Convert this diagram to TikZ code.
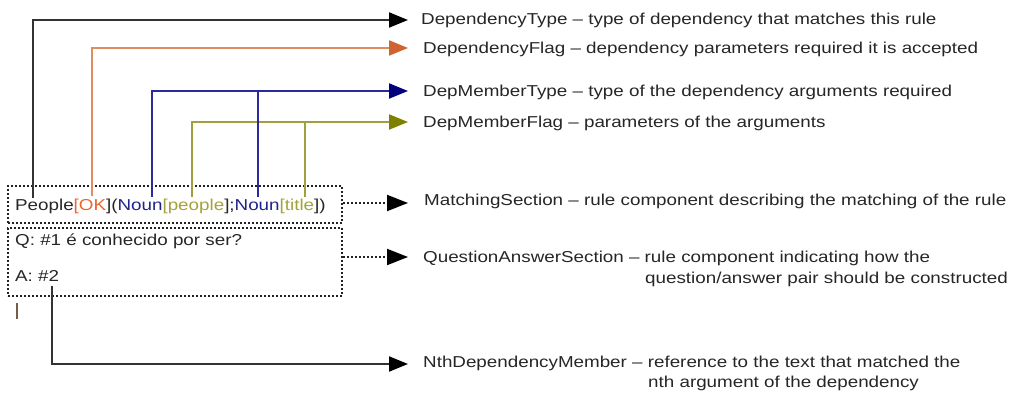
\documentclass[tikz,border=0pt]{standalone}
\usepackage{fontspec}
\setmainfont{Liberation Sans}[FakeStretch=1.19]
\usetikzlibrary{arrows.meta}

\definecolor{ink}{HTML}{262626}
\definecolor{lineK}{HTML}{333333}
\definecolor{dotK}{HTML}{222222}
\definecolor{lineO}{HTML}{E08B60}
\definecolor{headO}{HTML}{D0632F}
\definecolor{lineB}{HTML}{2A2A9C}
\definecolor{headB}{HTML}{00007F}
\definecolor{lineL}{HTML}{A0A040}
\definecolor{headL}{HTML}{7F7F00}
\definecolor{txtOK}{HTML}{F0642A}
\definecolor{txtNoun}{HTML}{22228A}
\definecolor{txtOl}{HTML}{A3A33A}
\definecolor{caretcol}{HTML}{7A5A4A}

\tikzset{
  txt/.style={inner sep=0pt, anchor=base west, text=ink,
              font=\fontsize{15.8pt}{19pt}\selectfont},
  link/.style={line width=2pt, line join=miter},
  tipK/.style={-{Triangle[length=19pt,width=15pt,color=black]}},
  tipO/.style={-{Triangle[length=19pt,width=15pt,color=headO]}},
  tipB/.style={-{Triangle[length=19pt,width=15pt,color=headB]}},
  tipL/.style={-{Triangle[length=19pt,width=15pt,color=headL]}},
  dotbox/.style={draw=dotK, line width=2pt, dash pattern=on 2pt off 2pt,
                 inner sep=0pt},
  dotlink/.style={draw=dotK, line width=2pt, dash pattern=on 2pt off 2pt,
                  -{Triangle[length=21pt,width=16pt,color=black]}},
}

\begin{document}
\begin{tikzpicture}[x=1pt, y=-1pt]
\useasboundingbox[fill=white] (0,0) rectangle (1013,393);

% rule sections
\node[dotbox, minimum width=334pt, minimum height=37pt] (match) at (175,204.5) {};
\node[dotbox, minimum width=334pt, minimum height=68pt] (qa) at (175,262) {};

\node[txt] (rule) at (15,211)
  {People\textcolor{txtOK}{[OK}](\textcolor{txtNoun}{Noun}\textcolor{txtOl}{[people}];\textcolor{txtNoun}{Noun}\textcolor{txtOl}{[title}])};
\node[txt] (qline) at (15,246) {Q: \#1 é conhecido por ser?};
\node[txt] (aline) at (15,281) {A: \#2};

% caret mark under the answer box
\draw[caretcol, line width=1.3pt] (17,303) -- (17,319);

% explanations
\node[txt] (dt)  at (421,25)  {DependencyType – type of dependency that matches this rule};
\node[txt] (df)  at (423,54)  {DependencyFlag – dependency parameters required it is accepted};
\node[txt] (dmt) at (423,97)  {DepMemberType – type of the dependency arguments required};
\node[txt] (dmf) at (423,128) {DepMemberFlag – parameters of the arguments};
\node[txt] (ms)  at (424,206) {MatchingSection – rule component describing the matching of the rule};
\node[txt] (qas) at (423,262) {QuestionAnswerSection – rule component indicating how the};
\node[txt] (qas2) at (645,283) {question/answer pair should be constructed};
\node[txt] (nth) at (423,367) {NthDependencyMember – reference to the text that matched the};
\node[txt] (nth2) at (648,387) {nth argument of the dependency};

% arrow tips in front of the explanations
\coordinate (tDT)  at (408,20);
\coordinate (tDF)  at (408,48);
\coordinate (tDMT) at (408,91);
\coordinate (tDMF) at (408,122);
\coordinate (tMS)  at (408,203);
\coordinate (tQA)  at (408,257);
\coordinate (tNth) at (408,364);

% anchors on the rule text
\coordinate (sType)  at (33,198);
\coordinate (sFlag)  at (92,196);
\coordinate (sNounA) at (152,197);
\coordinate (sNounB) at (258,197);
\coordinate (sFlA)   at (192,197);
\coordinate (sFlB)   at (305,197);
\coordinate (sRef)   at (52,286);

% connectors
\draw[link, lineK, tipK] (sType) |- (tDT);
\draw[link, lineO, tipO] (sFlag) |- (tDF);
\draw[link, lineL, tipL] (sFlA) |- (tDMF);
\draw[link, lineL] (sFlB) -- (sFlB |- tDMF);
\draw[link, lineB, tipB] (sNounA) |- (tDMT);
\draw[link, lineB] (sNounB) -- (sNounB |- tDMT);
\draw[link, lineK, tipK] (sRef) |- (tNth);

\draw[dotlink] (match.east |- tMS) -- (tMS);
\draw[dotlink] (qa.east |- tQA) -- (tQA);
\end{tikzpicture}
\end{document}
